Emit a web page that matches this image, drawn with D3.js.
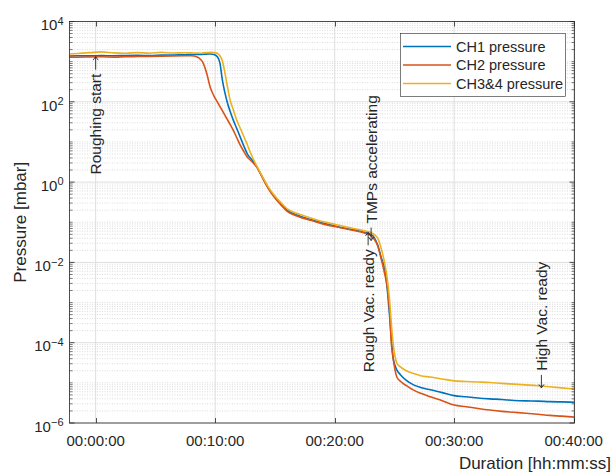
<!DOCTYPE html>
<html>
<head>
<meta charset="utf-8">
<script src="https://cdn.jsdelivr.net/npm/d3@7"></script>
<style>
  body { margin: 0; background: #fff; }
  svg { display: block; font-family: "Liberation Sans", Arial, Helvetica, sans-serif; }
</style>
</head>
<body>
<svg id="chart" width="613" height="474"></svg>
<script>
// Elapsed time since roughing start, in minutes
const minutes = [-2.2, -1.5, -0.5, 0.5, 1.5, 2.5, 3.5, 4.5, 5.5, 6.5, 7.5, 8.0, 8.5, 8.8, 9.0, 9.3, 9.6, 9.9,
  10.2, 10.4, 10.6, 10.8, 11.0, 11.25, 11.5, 11.8, 12.1, 12.4, 12.7, 13.0, 13.5, 14.0, 14.5, 15.0, 15.5, 16.0,
  17.0, 18.0, 19.0, 20.0, 21.0, 22.0, 22.5, 23.0, 23.3, 23.6, 23.9, 24.2, 24.4, 24.6, 24.75, 24.9, 25.05, 25.2,
  25.5, 26.0, 26.6, 27.2, 28.0, 29.0, 30.0, 31.0, 32.0, 33.0, 34.0, 35.0, 36.0, 37.0, 38.0, 39.0, 40.07];

// Chamber pressures in mbar
const ch1Pressure = [1380, 1400, 1390, 1410, 1400, 1420, 1430, 1420, 1450, 1470, 1490, 1500, 1520, 1510, 1530, 1540, 1550, 1500,
  1300, 920, 350, 176, 100, 58, 36, 21.8, 13.2, 7.9, 5.0, 3.8, 2.35, 1.25, 0.68, 0.42, 0.28, 0.2,
  0.145, 0.117, 0.095, 0.081, 0.07, 0.061, 0.056, 0.05, 0.042, 0.027, 0.013, 0.0065, 0.0022, 4.5e-4, 1.2e-4, 4e-5, 2.7e-5, 2.1e-5,
  1.6e-5, 1.15e-5, 8.9e-6, 7.7e-6, 6.7e-6, 5.7e-6, 4.8e-6, 4.5e-6, 4.2e-6, 4.0e-6, 3.85e-6, 3.65e-6, 3.55e-6, 3.5e-6, 3.4e-6, 3.35e-6, 3.3e-6];

const ch2Pressure = [1300, 1290, 1310, 1320, 1300, 1330, 1340, 1350, 1370, 1390, 1400, 1400, 1300, 1120, 920, 500, 224, 139,
  97, 76, 60, 47, 37, 27.5, 20, 12.9, 8.3, 5.8, 4.15, 3.4, 2.3, 1.2, 0.65, 0.4, 0.27, 0.19,
  0.138, 0.112, 0.091, 0.078, 0.068, 0.059, 0.054, 0.047, 0.038, 0.026, 0.012, 0.005, 0.0025, 6e-4, 9e-5, 4e-5, 2.1e-5, 1.4e-5,
  1.1e-5, 8.5e-6, 6.6e-6, 5.5e-6, 4.5e-6, 3.6e-6, 2.8e-6, 2.55e-6, 2.3e-6, 2.1e-6, 1.95e-6, 1.85e-6, 1.75e-6, 1.65e-6, 1.55e-6, 1.48e-6, 1.4e-6];

const ch34Pressure = [1550, 1600, 1680, 1750, 1650, 1620, 1680, 1620, 1700, 1640, 1660, 1650, 1640, 1620, 1660, 1680, 1700, 1680,
  1600, 1400, 1050, 560, 265, 110, 66, 35, 22, 13.7, 8.4, 5.0, 2.45, 1.3, 0.72, 0.45, 0.31, 0.22,
  0.16, 0.128, 0.104, 0.089, 0.076, 0.066, 0.061, 0.056, 0.05, 0.04, 0.022, 0.009, 0.004, 0.0011, 2.8e-4, 9e-5, 4.6e-5, 3.1e-5,
  2.5e-5, 2.0e-5, 1.72e-5, 1.5e-5, 1.4e-5, 1.25e-5, 1.12e-5, 1.08e-5, 1.05e-5, 1.02e-5, 9.7e-6, 9.3e-6, 8.9e-6, 8.5e-6, 8.0e-6, 7.5e-6, 7.0e-6];

const seriesNames = ["CH1 pressure", "CH2 pressure", "CH3&4 pressure"];
const seriesValues = [ch1Pressure, ch2Pressure, ch34Pressure];
const seriesColors = ["#0072BD", "#D95319", "#EDB120"];

const timeTicks = [0, 10, 20, 30, 40];          // minutes
const decadeTicks = [-6, -4, -2, 0, 2, 4];      // exponents of the labelled decades

// Event markers: time (min), pressure (mbar), label, and whether the arrow sits below the label
const eventTimes = [0, 23.05, 22.8, 37.3];
const eventPressures = [1330, 0.035, 0.056, 7.5e-6];
const eventLabels = ["Roughing start", "TMPs accelerating", "Rough Vac. ready", "High Vac. ready"];
const eventArrowFirst = [false, true, false, true];

const svg = d3.select("#chart");
const ink = "#262626";
const plot = { left: 69.5, right: 574.5, top: 21.5, bottom: 423 };

const x = d3.scaleLinear().domain([-2.19, 40.07]).range([plot.left, plot.right]);
const y = d3.scaleLog().domain([1e-6, 1e4]).range([plot.bottom, plot.top]);

const pad2 = n => String(n).padStart(2, "0");
const hms = m => {
  const s = Math.round(m * 60);
  return `${pad2(Math.floor(s / 3600))}:${pad2(Math.floor(s / 60) % 60)}:${pad2(s % 60)}`;
};

// Minor positions: 2..9 within each decade plus the unlabelled odd decades
const minorValues = [];
for (let k = -6; k < 4; k++) {
  for (let m = 2; m <= 9; m++) minorValues.push(m * Math.pow(10, k));
  if (!decadeTicks.includes(k)) minorValues.push(Math.pow(10, k));
}
const majorValues = decadeTicks.map(k => Math.pow(10, k));

// Grid
const grid = svg.append("g");
grid.selectAll(".ymin").data(minorValues).join("line")
  .attr("x1", plot.left).attr("x2", plot.right)
  .attr("y1", d => y(d)).attr("y2", d => y(d))
  .attr("stroke", "#c4c4c4").attr("stroke-width", 0.6).attr("stroke-dasharray", "1,1.5");
grid.selectAll(".ymaj").data(majorValues).join("line")
  .attr("x1", plot.left).attr("x2", plot.right)
  .attr("y1", d => y(d)).attr("y2", d => y(d))
  .attr("stroke", "#dedede").attr("stroke-width", 1);
grid.selectAll(".xmaj").data(timeTicks).join("line")
  .attr("x1", d => x(d)).attr("x2", d => x(d))
  .attr("y1", plot.top).attr("y2", plot.bottom)
  .attr("stroke", "#dedede").attr("stroke-width", 1);

// Pressure curves
svg.append("clipPath").attr("id", "plotClip").append("rect")
  .attr("x", plot.left).attr("y", plot.top)
  .attr("width", plot.right - plot.left).attr("height", plot.bottom - plot.top);

const line = d3.line()
  .x(d => x(d[0]))
  .y(d => y(d[1]))
  .curve(d3.curveMonotoneX);

svg.append("g").attr("clip-path", "url(#plotClip)")
  .selectAll("path").data(seriesValues).join("path")
  .attr("d", vals => line(minutes.map((t, i) => [t, vals[i]])))
  .attr("fill", "none")
  .attr("stroke", (d, i) => seriesColors[i])
  .attr("stroke-width", 1.6)
  .attr("stroke-linejoin", "round");

// Axes box and inward ticks
const axes = svg.append("g").attr("stroke", ink);
axes.append("rect")
  .attr("x", plot.left).attr("y", plot.top)
  .attr("width", plot.right - plot.left).attr("height", plot.bottom - plot.top)
  .attr("fill", "none").attr("stroke-width", 0.8);

timeTicks.forEach(t => {
  const xx = Math.round(x(t)) + 0.5;
  axes.append("line").attr("x1", xx).attr("x2", xx).attr("y1", plot.bottom).attr("y2", plot.bottom - 5).attr("stroke-width", 0.8);
  axes.append("line").attr("x1", xx).attr("x2", xx).attr("y1", plot.top).attr("y2", plot.top + 5).attr("stroke-width", 0.8);
});
majorValues.forEach(v => {
  const yy = y(v);
  axes.append("line").attr("x1", plot.left).attr("x2", plot.left + 5).attr("y1", yy).attr("y2", yy).attr("stroke-width", 0.8);
  axes.append("line").attr("x1", plot.right).attr("x2", plot.right - 5).attr("y1", yy).attr("y2", yy).attr("stroke-width", 0.8);
});
minorValues.forEach(v => {
  const yy = y(v);
  axes.append("line").attr("x1", plot.left).attr("x2", plot.left + 3).attr("y1", yy).attr("y2", yy).attr("stroke-width", 0.6);
  axes.append("line").attr("x1", plot.right).attr("x2", plot.right - 3).attr("y1", yy).attr("y2", yy).attr("stroke-width", 0.6);
});

// Tick labels
svg.append("g").selectAll("text").data(timeTicks).join("text")
  .attr("x", d => x(d)).attr("y", 446)
  .attr("text-anchor", "middle").attr("font-size", 15).attr("fill", ink)
  .text(d => hms(d));

const yLabels = svg.append("g").selectAll("text").data(decadeTicks).join("text")
  .attr("x", 63.5).attr("y", d => y(Math.pow(10, d)) + 8.7)
  .attr("text-anchor", "end").attr("font-size", 15).attr("fill", ink);
yLabels.append("tspan").text("10");
yLabels.append("tspan").attr("dy", -5.5).attr("font-size", 11)
  .text(d => (d < 0 ? "\u2212" + Math.abs(d) : String(d)));

// Axis titles
svg.append("text")
  .attr("transform", `translate(20,${(plot.top + plot.bottom) / 2}) rotate(-90)`)
  .attr("dy", "0.35em").attr("text-anchor", "middle")
  .attr("font-size", 17).attr("fill", ink)
  .text("Pressure [mbar]");
svg.append("text")
  .attr("x", 611).attr("y", 469).attr("text-anchor", "end")
  .attr("font-size", 17).attr("fill", ink)
  .text("Duration [hh:mm:ss]");

// Event annotations, written vertically; a thin arrow points at the marked instant
const arrowLen = 13, arrowGap = 4;
const events = svg.append("g").selectAll("g").data(eventLabels).join("g")
  .attr("transform", (d, i) => `translate(${x(eventTimes[i])},${y(eventPressures[i])}) rotate(-90)`);
events.append("path")
  .attr("d", (d, i) => {
    const s = eventArrowFirst[i] ? 1 : -1;   // tail direction along the text
    return `M${s * arrowLen},0L0,0M${s * 3.5},-2.6L0,0L${s * 3.5},2.6`;
  })
  .attr("fill", "none").attr("stroke", ink).attr("stroke-width", 0.9);
events.append("text")
  .attr("x", (d, i) => eventArrowFirst[i] ? arrowLen + arrowGap : -(arrowLen + arrowGap))
  .attr("dy", "0.35em")
  .attr("text-anchor", (d, i) => eventArrowFirst[i] ? "start" : "end")
  .attr("font-size", 15.5).attr("fill", ink)
  .text(d => d);

// Legend
const legend = svg.append("g");
legend.append("rect")
  .attr("x", 400.5).attr("y", 33.5).attr("width", 165).attr("height", 63)
  .attr("fill", "#fff").attr("stroke", ink).attr("stroke-width", 0.6);
const rowY = [46.5, 65, 83.5];
seriesNames.forEach((name, i) => {
  legend.append("line")
    .attr("x1", 403).attr("x2", 451).attr("y1", rowY[i]).attr("y2", rowY[i])
    .attr("stroke", seriesColors[i]).attr("stroke-width", 1.6);
  legend.append("text")
    .attr("x", 456).attr("y", rowY[i] + 5)
    .attr("font-size", 14.5).attr("fill", ink)
    .text(name);
});
</script>
</body>
</html>
